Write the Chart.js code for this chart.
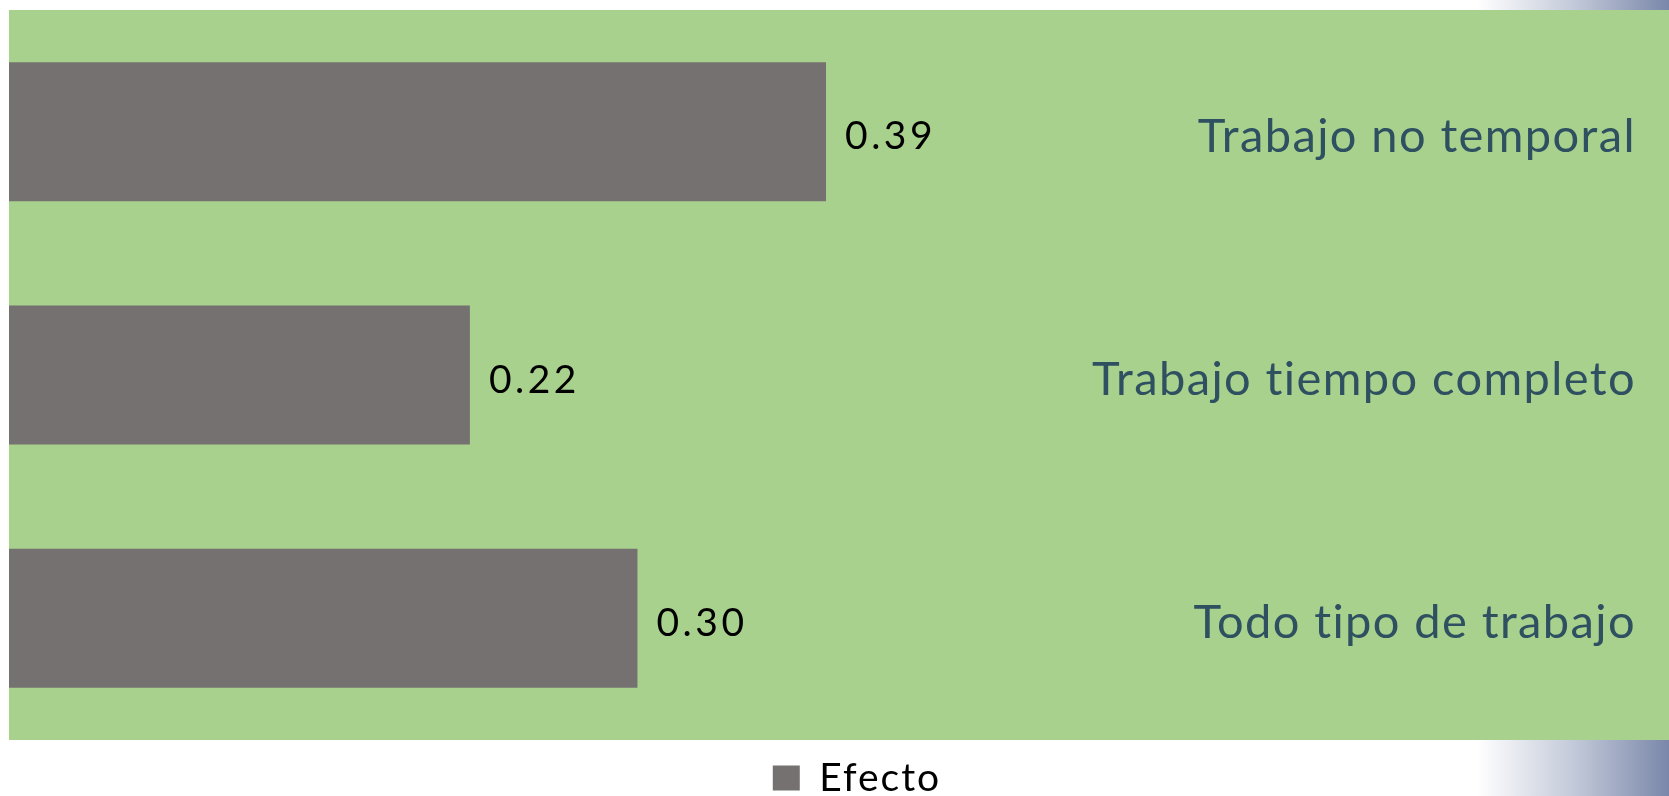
<!DOCTYPE html>
<html>
<head>
<meta charset="utf-8">
<script src="https://cdn.jsdelivr.net/npm/chart.js@4/dist/chart.umd.min.js"></script>
<style>
  html, body { margin:0; padding:0; background:#fff; overflow:hidden; }
  #wrap { position:relative; width:1669px; height:796px; }
  .strip { position:absolute; left:1477px; width:192px; background:linear-gradient(to right, #ffffff 0%, #c3cad9 50%, #7a87aa 100%); }
  #strip-top { top:0; height:10px; }
  #strip-bot { top:740px; height:56px; }
  canvas { position:absolute; left:0; top:0; }
</style>
</head>
<body>
<div id="wrap">
  <div class="strip" id="strip-top"></div>
  <div class="strip" id="strip-bot"></div>
  <canvas id="chart" width="1669" height="796"></canvas>
</div>
<script>
// data
const categories = ['Trabajo no temporal', 'Trabajo tiempo completo', 'Todo tipo de trabajo'];
const efecto = [0.39, 0.22, 0.30];
const seriesName = 'Efecto';

const GREEN = '#a9d18e';
const BAR = '#767171';
const TEAL = '#2e5060';
const FONT = 'Lato, "Open Sans", sans-serif';

// slightly wider letter spacing so Lato reads like the original's font (legend uses it too)
const spacing = {
  id: 'spacing',
  beforeLayout(chart){ chart.ctx.letterSpacing = '2px'; },
  beforeDraw(chart){ chart.ctx.letterSpacing = '2px'; }
};

// green plot area
const areaBg = {
  id: 'areaBg',
  beforeDraw(chart){
    const {ctx, chartArea:a} = chart;
    ctx.save();
    ctx.fillStyle = GREEN;
    ctx.fillRect(a.left, a.top, a.right - a.left, a.bottom - a.top);
    ctx.restore();
  }
};

// value labels next to bars + category names on the right
const labels = {
  id: 'labels',
  afterDatasetsDraw(chart){
    const {ctx, scales} = chart;
    const meta = chart.getDatasetMeta(0);
    const rightEdge = chart.width;
    ctx.save();
    ctx.textBaseline = 'middle';
    ctx.font = '39px ' + FONT;
    ctx.letterSpacing = '3.5px';
    ctx.fillStyle = '#000';
    ctx.textAlign = 'left';
    meta.data.forEach((bar, i) => {
      ctx.fillText(efecto[i].toFixed(2), bar.x + 19, bar.y + 5);
    });
    ctx.font = '47px ' + FONT;
    ctx.letterSpacing = '1.4px';
    ctx.fillStyle = TEAL;
    ctx.textAlign = 'right';
    categories.forEach((c, i) => {
      ctx.fillText(c, rightEdge - 33, scales.y.getPixelForValue(i) + 5);
    });
    ctx.restore();
  }
};

new Chart(document.getElementById('chart'), {
  type: 'bar',
  data: {
    labels: categories,
    datasets: [{
      label: seriesName,
      data: efecto,
      backgroundColor: BAR,
      borderWidth: 0,
      categoryPercentage: 1,
      barPercentage: 0.571
    }]
  },
  options: {
    indexAxis: 'y',
    responsive: false,
    animation: false,
    layout: { padding: { left: 9, top: 10, right: -36, bottom: -11.5 } },
    scales: {
      x: { display: false, min: 0, max: 0.7924 },
      y: { display: false, offset: true }
    },
    plugins: {
      legend: {
        position: 'bottom',
        labels: {
          color: '#000',
          font: { family: FONT, size: 39 },
          boxWidth: 27,
          boxHeight: 25,
          padding: 18.5
        }
      },
      tooltip: { enabled: false }
    }
  },
  plugins: [spacing, areaBg, labels]
});
</script>
</body>
</html>
